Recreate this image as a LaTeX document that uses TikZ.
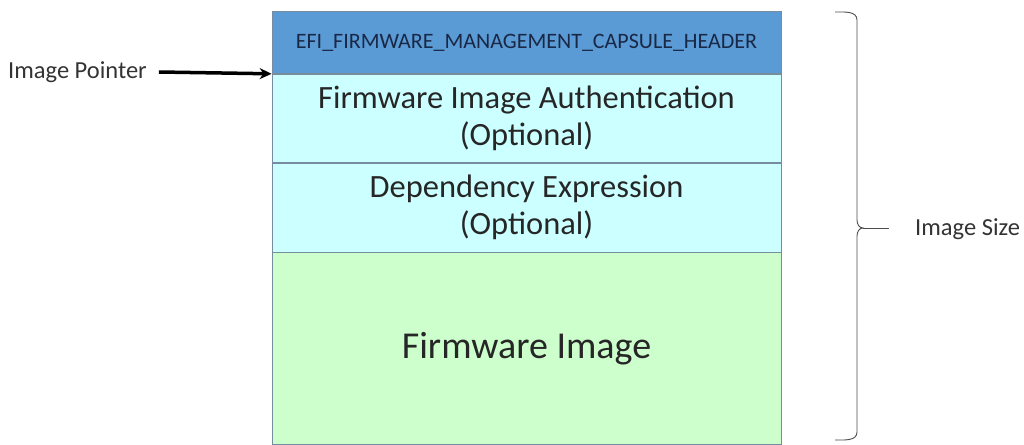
\documentclass[tikz,border=0pt]{standalone}
\usepackage{fontspec}
\setmainfont{Carlito}
\usepackage{tikz}
\usetikzlibrary{arrows.meta,positioning}

\definecolor{hdrblue}{RGB}{91,155,213}
\definecolor{optcyan}{RGB}{204,255,255}
\definecolor{imggreen}{RGB}{204,255,204}
\definecolor{boxline}{RGB}{120,140,160}
\definecolor{hdrtext}{RGB}{25,40,70}

\tikzset{
  layer/.style={draw=boxline, line width=0.8pt, minimum width=509pt,
    inner sep=0pt, align=center, anchor=north},
  hdrlayer/.style={layer, fill=hdrblue, text=hdrtext,
    font=\fontsize{22}{24}\selectfont},
  optlayer/.style={layer, fill=optcyan, text=black!85,
    font=\fontsize{32.5}{37.5}\selectfont},
  imglayer/.style={layer, fill=imggreen, text=black!85,
    font=\fontsize{38}{42}\selectfont},
  sidelabel/.style={text=black!80, font=\fontsize{24.5}{28}\selectfont, inner sep=0pt}
}

\begin{document}
\begin{tikzpicture}[x=1pt, y=-1pt, >={Stealth[length=12pt,width=11pt]}]
  \useasboundingbox (0,0) rectangle (1024,444);
  % layers of the capsule image
  \node[hdrlayer, minimum height=62pt] (hdr) at (526.5,11) {EFI\_FIRMWARE\_MANAGEMENT\_CAPSULE\_HEADER};
  \node[optlayer, minimum height=88pt, below=0pt of hdr] (auth) {Firmware Image Authentication\\(Optional)};
  \node[optlayer, minimum height=89pt, below=0pt of auth] (dep) {Dependency Expression\\(Optional)};
  \node[imglayer, minimum height=192pt, below=0pt of dep] (fw) {Firmware Image};
  % image pointer
  \node[sidelabel, anchor=west] (ptr) at (8,72) {Image Pointer};
  \draw[->, line width=3.5pt] (ptr.east) ++(12pt,0) -- (hdr.south west);
  % brace for the image size
  \coordinate (btop) at (835,12);
  \coordinate (bbot) at (835,440);
  \coordinate (btip) at (863,228);
  \draw[black!70, line width=0.9pt]
    (btop) to[out=0,in=90] (857,20) -- (857,220) to[out=-90,in=180] (btip)
    to[out=180,in=90] (857,236) -- (857,432) to[out=-90,in=0] (bbot);
  \draw[black!70, line width=0.9pt] (btip) -- (889,228);
  \node[sidelabel, anchor=west] (size) at (915,229) {Image Size};
\end{tikzpicture}
\end{document}
